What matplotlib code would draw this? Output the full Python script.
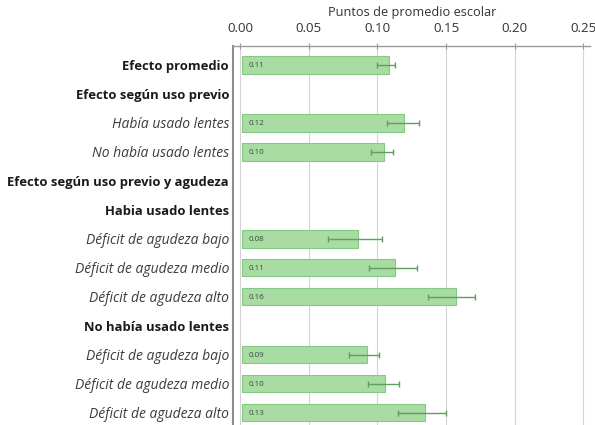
import matplotlib
matplotlib.use("Agg")
import matplotlib.pyplot as plt
import numpy as np

# rows top to bottom; None means a header row without a bar
labels = [
    "Efecto promedio",
    "Efecto según uso previo",
    "Había usado lentes",
    "No había usado lentes",
    "Efecto según uso previo y agudeza",
    "Habia usado lentes",
    "Déficit de agudeza bajo",
    "Déficit de agudeza medio",
    "Déficit de agudeza alto",
    "No había usado lentes",
    "Déficit de agudeza bajo",
    "Déficit de agudeza medio",
    "Déficit de agudeza alto",
]
styles = ["bold", "bold", "italic", "italic", "bold", "bold",
          "italic", "italic", "italic", "bold", "italic", "italic", "italic"]
effects = [0.107, None, 0.118, 0.103, None, None, 0.084, 0.111, 0.156, None, 0.091, 0.104, 0.133]
err_low = [0.0995, None, 0.107, 0.095, None, None, 0.064, 0.094, 0.137, None, 0.079, 0.093, 0.115]
err_high = [0.113, None, 0.130, 0.111, None, None, 0.103, 0.129, 0.171, None, 0.101, 0.116, 0.150]
xticks = [0.00, 0.05, 0.10, 0.15, 0.20, 0.25]

plt.rcParams['font.family'] = ['Open Sans', 'DejaVu Sans']

fig = plt.figure(figsize=(5.95, 4.25), dpi=100)
ax = fig.add_axes([0.392, -0.005, 0.6, 0.897])

ypos = np.arange(len(labels))
for i, v in enumerate(effects):
    if v is None:
        continue
    ax.barh(i, v, height=0.6, left=0.0015, color="#a8dca2", edgecolor="#86c983",
            linewidth=0.8, zorder=2)
    ax.errorbar(v, i, xerr=[[v - err_low[i]], [err_high[i] - v]], fmt="none",
                ecolor="#5f9e5c", elinewidth=1.0, capsize=2.5, capthick=1.0, zorder=3)
    ax.text(0.006, i + 0.03, "%.2f" % v, va="center", ha="left", fontsize=5.8,
            color="#3a4a3a", zorder=4)

ax.set_ylim(12.5, -0.66)
ax.set_xlim(-0.005, 0.255)
ax.set_yticks(ypos)
ax.set_yticklabels(labels, fontsize=9.4)
for t, s in zip(ax.get_yticklabels(), styles):
    if s == "bold":
        t.set_fontweight("bold")
        t.set_color("#1a1a1a")
    else:
        t.set_fontstyle("italic")
        t.set_color("#3c3c3c")
        t.set_fontsize(10.0)
ax.tick_params(axis="y", length=0, pad=3)

ax.xaxis.tick_top()
ax.xaxis.set_label_position("top")
ax.set_xticks(xticks)
ax.set_xticklabels(["%.2f" % t for t in xticks], fontsize=9.6, color="#333333")
ax.tick_params(axis="x", length=4, color="#999999", direction="inout", pad=6)
ax.set_xlabel("Puntos de promedio escolar", fontsize=9.2, color="#333333", labelpad=4)

ax.grid(axis="x", color="#d4d4d4", linewidth=0.8, zorder=0)
for side in ["right", "bottom"]:
    ax.spines[side].set_visible(False)
ax.spines["left"].set_color("#8c8c8c")
ax.spines["left"].set_linewidth(1.5)
ax.spines["top"].set_color("#9a9a9a")
ax.spines["top"].set_linewidth(1.0)

fig.savefig("out.png", dpi=100)
